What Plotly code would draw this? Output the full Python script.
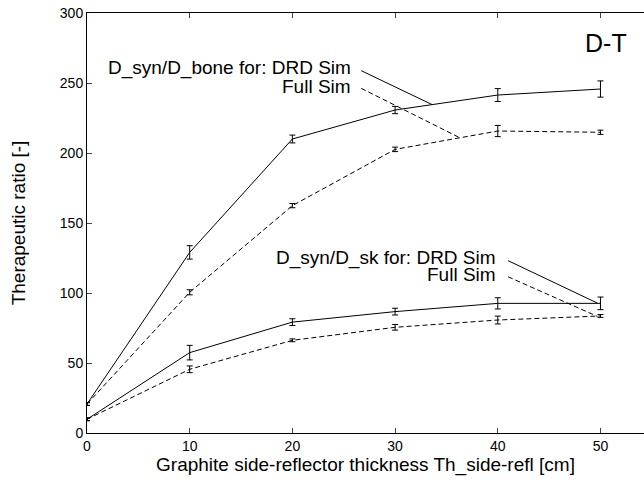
import plotly.graph_objects as go

thickness = [0, 10, 20, 30, 40, 50]

bone_drd = [20.7, 129, 210, 230.7, 241.4, 245.7]
bone_drd_err = [1, 4.8, 2.8, 2.6, 4.6, 5.8]
bone_full = [20.7, 100.5, 162.4, 202.6, 215.7, 214.8]
bone_full_err = [1, 1.8, 1.5, 1.6, 4, 1.5]

sk_drd = [9.8, 57.4, 79.2, 86.7, 92.6, 92.6]
sk_drd_err = [1, 5.2, 2.4, 2.4, 4.0, 4.5]
sk_full = [9.8, 45.5, 66.2, 75.5, 80.7, 83.6]
sk_full_err = [1, 2.4, 1.0, 2.0, 2.8, 1.0]

x_ticks = [0, 10, 20, 30, 40, 50]
y_ticks = [0, 50, 100, 150, 200, 250, 300]

FONT = "Liberation Sans, Arial, sans-serif"
DASH = "5px,3px"

fig = go.Figure()

def add(y, err, dash):
    fig.add_trace(go.Scatter(
        x=thickness, y=y, mode="lines",
        line=dict(color="black", width=1, dash=dash),
        error_y=dict(type="data", array=err, visible=True,
                     color="black", thickness=1, width=3),
        showlegend=False, hoverinfo="skip"))

add(bone_drd, bone_drd_err, "solid")
add(bone_full, bone_full_err, DASH)
add(sk_drd, sk_drd_err, "solid")
add(sk_full, sk_full_err, DASH)

# leader lines (annotation callouts)
leaders = [
    (26.7, 258.8, 33.6, 234.6, "solid"),
    (26.7, 246.2, 36.3, 210.9, DASH),
    (41.0, 123.1, 49.7, 92.8, "solid"),
    (41.0, 111.6, 49.7, 83.3, DASH),
]
for x0, y0, x1, y1, d in leaders:
    fig.add_shape(type="line", xref="x", yref="y", x0=x0, y0=y0, x1=x1, y1=y1,
                  line=dict(color="black", width=1, dash=d))

labels = [
    ("D_syn/D_bone for: DRD Sim", 25.9, 260.7),
    ("Full Sim", 25.9, 247.4),
    ("D_syn/D_sk for: DRD Sim", 40.0, 124.8),
    ("Full Sim", 40.0, 112.9),
]
for t, x, y in labels:
    fig.add_annotation(text=t, x=x, y=y, xref="x", yref="y", showarrow=False,
                       xanchor="right", yanchor="middle",
                       font=dict(family=FONT, size=19, color="black"))

fig.add_annotation(text="D-T", x=50.5, y=278.5, xref="x", yref="y",
                   showarrow=False, xanchor="center", yanchor="middle",
                   font=dict(family=FONT, size=25, color="black"))

fig.update_layout(
    width=644, height=480,
    margin=dict(l=87, r=0, t=13, b=47, pad=0),
    paper_bgcolor="white", plot_bgcolor="white",
    font=dict(family=FONT, color="black", size=14),
    xaxis=dict(range=[0, 54.24], tickvals=x_ticks, ticks="inside", ticklen=5,
               showline=True, linecolor="black", linewidth=1, mirror="ticks",
               showgrid=False, zeroline=False, tickfont=dict(size=14),
               title=dict(text="Graphite side-reflector thickness Th_side-refl [cm]",
                          font=dict(size=19), standoff=4)),
    yaxis=dict(range=[0, 300], tickvals=y_ticks, ticks="inside", ticklen=5,
               showline=True, linecolor="black", linewidth=1, mirror=False,
               showgrid=False, zeroline=False, tickfont=dict(size=14),
               title=dict(text="Therapeutic ratio [-]", font=dict(size=19),
                          standoff=29)),
)

fig.write_html("out.html", config={"displayModeBar": False},
               post_script="document.body.style.margin='0';document.body.style.overflow='hidden';")
